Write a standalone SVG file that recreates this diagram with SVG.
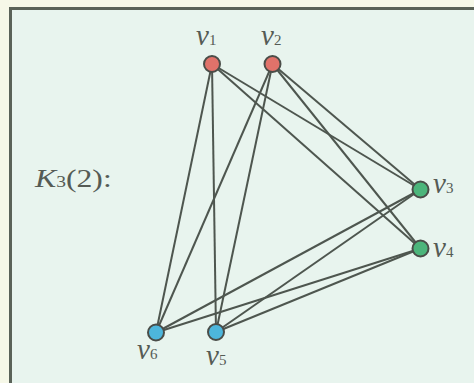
<svg xmlns="http://www.w3.org/2000/svg" width="474" height="383" viewBox="0 0 474 383">
<style>
.bg{fill:#e8f4ee}
.frame{fill:none;stroke:#5a6258;stroke-width:3}
.edge{stroke:#4e564f;stroke-width:2;fill:none}
.node{stroke:#4a4d48;stroke-width:2}
.red{fill:#e0726a}
.green{fill:#4cb57b}
.blue{fill:#4db6dc}
.lbl{font-family:"Liberation Serif","Times New Roman",serif;fill:#555b55}
.it{font-style:italic;font-size:29px}
.sub{font-size:15px}
</style>
<rect x="0" y="0" width="474" height="383" fill="#f6f8e8"/>
<rect class="bg" x="10.5" y="8.5" width="470" height="380"/>
<rect class="frame" x="10.5" y="8.5" width="470" height="380"/>
<text class="lbl" transform="translate(35,187) scale(1.22,1)" x="0" y="0" font-size="26"><tspan font-style="italic">K</tspan><tspan font-size="16">3</tspan><tspan>(2):</tspan></text>
<g id="edges">
<line class="edge" x1="212" y1="64" x2="156" y2="332.5"/>
<line class="edge" x1="212" y1="64" x2="216" y2="332"/>
<line class="edge" x1="212" y1="64" x2="420.5" y2="189.5"/>
<line class="edge" x1="212" y1="64" x2="420.5" y2="248.5"/>
<line class="edge" x1="272.5" y1="64" x2="156" y2="332.5"/>
<line class="edge" x1="272.5" y1="64" x2="216" y2="332"/>
<line class="edge" x1="272.5" y1="64" x2="420.5" y2="189.5"/>
<line class="edge" x1="272.5" y1="64" x2="420.5" y2="248.5"/>
<line class="edge" x1="420.5" y1="189.5" x2="156" y2="332.5"/>
<line class="edge" x1="420.5" y1="189.5" x2="216" y2="332"/>
<line class="edge" x1="420.5" y1="248.5" x2="156" y2="332.5"/>
<line class="edge" x1="420.5" y1="248.5" x2="216" y2="332"/>
</g>
<g id="v1"><circle class="node red" cx="212" cy="64" r="8"/><text class="lbl" x="196" y="45"><tspan class="it">v</tspan><tspan class="sub">1</tspan></text></g>
<g id="v2"><circle class="node red" cx="272.5" cy="64" r="8"/><text class="lbl" x="261" y="45"><tspan class="it">v</tspan><tspan class="sub">2</tspan></text></g>
<g id="v3"><circle class="node green" cx="420.5" cy="189.5" r="8"/><text class="lbl" x="433" y="193"><tspan class="it">v</tspan><tspan class="sub">3</tspan></text></g>
<g id="v4"><circle class="node green" cx="420.5" cy="248.5" r="8"/><text class="lbl" x="433" y="257"><tspan class="it">v</tspan><tspan class="sub">4</tspan></text></g>
<g id="v5"><circle class="node blue" cx="216" cy="332" r="8"/><text class="lbl" x="206" y="365"><tspan class="it">v</tspan><tspan class="sub">5</tspan></text></g>
<g id="v6"><circle class="node blue" cx="156" cy="332.5" r="8"/><text class="lbl" x="137" y="359"><tspan class="it">v</tspan><tspan class="sub">6</tspan></text></g>
</svg>
